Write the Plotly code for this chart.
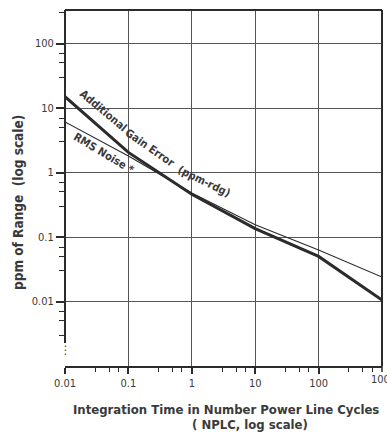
import numpy as np
import plotly.graph_objects as go

# Values (NPLC vs ppm of range)
nplc = [0.01, 0.1, 1, 10, 100, 1000]
gain_error = [15, 2.05, 0.46, 0.135, 0.05, 0.0105]
rms_noise = [6.1, 1.8, 0.48, 0.155, 0.063, 0.024]

x_ticks = [0.01, 0.1, 1, 10, 100, 1000]
x_labels = ["0.01", "0.1", "1", "10", "100", "1000"]
y_ticks = [0.01, 0.1, 1, 10, 100]
y_labels = ["0.01", "0.1", "1", "10", "100"]

# plot area in pixels
W, H = 387, 432
L, R, T, B = 65, 382, 10, 366

INK = "#2b2b2b"
TXT = "#3a3a3a"
FONT = "Liberation Sans Narrow, DejaVu Sans Condensed, Arial, sans-serif"


def px(x):
    return (x - L) / (R - L)


def py(y):
    return (B - y) / (B - T)


minor_x = [m * d for d in [0.01, 0.1, 1, 10, 100] for m in (3, 5, 7)]
minor_y = [m * d for d in [0.001, 0.01, 0.1, 1, 10, 100] for m in (3, 5, 7)]

fig = go.Figure()

fig.add_trace(go.Scatter(
    x=nplc, y=rms_noise, mode="lines",
    line=dict(color=INK, width=1.1),
    showlegend=False, hoverinfo="skip",
))
fig.add_trace(go.Scatter(
    x=nplc, y=gain_error, mode="lines",
    line=dict(color=INK, width=3),
    showlegend=False, hoverinfo="skip",
))

fig.update_xaxes(
    type="log", range=[-2, 3],
    tickmode="array", tickvals=x_ticks[:-1], ticktext=x_labels[:-1],
    showgrid=True, gridcolor="#555555", gridwidth=1,
    showline=True, linecolor=INK, linewidth=2,
    ticks="outside", ticklen=6, tickcolor=INK, tickwidth=1.5,
    minor=dict(tickmode="array", tickvals=minor_x, ticks="outside",
               ticklen=4, tickcolor=INK, tickwidth=1.2, showgrid=False),
    tickfont=dict(family=FONT, size=11, color=TXT),
    zeroline=False,
)
fig.update_yaxes(
    type="log", range=[-3, 2.52],
    tickmode="array", tickvals=y_ticks, ticktext=y_labels,
    showgrid=True, gridcolor="#555555", gridwidth=1,
    showline=False,
    ticks="outside", ticklen=8, tickcolor=INK, tickwidth=1.5,
    minor=dict(tickmode="array", tickvals=minor_y, ticks="outside",
               ticklen=5, tickcolor=INK, tickwidth=1.2, showgrid=False),
    tickfont=dict(family=FONT, size=11, color=TXT),
    zeroline=False,
)

shapes = [
    # frame: top, right, partial left spine
    dict(type="line", xref="paper", yref="paper", x0=0, x1=1, y0=1, y1=1,
         line=dict(color=INK, width=2)),
    dict(type="line", xref="paper", yref="paper", x0=1, x1=1, y0=0, y1=1,
         line=dict(color=INK, width=2)),
    dict(type="line", xref="paper", yref="paper", x0=0, x1=0, y0=py(343), y1=1,
         line=dict(color=INK, width=2)),
    # major tick at the last decade (its label is clipped by the edge)
    dict(type="line", xref="paper", yref="paper", x0=1, x1=1,
         y0=py(366), y1=py(372), line=dict(color=INK, width=1.5)),
]

annotations = [
    dict(text="Additional", x=px(103), y=py(110), textangle=40),
    dict(text="Gain Error", x=px(149), y=py(148), textangle=35),
    dict(text="(ppm-rdg)", x=px(204), y=py(181), textangle=26),
    dict(text="RMS Noise *", x=px(104), y=py(153), textangle=31),
]
for a in annotations:
    a.update(xref="paper", yref="paper", showarrow=False,
             xanchor="center", yanchor="middle",
             font=dict(family=FONT, size=11, color=TXT, weight="bold"))

annotations += [
    dict(text=x_labels[-1], x=px(383), y=py(379), xref="paper", yref="paper",
         showarrow=False, xanchor="center", yanchor="middle",
         font=dict(family=FONT, size=11, color=TXT)),
    dict(text="⋮", x=px(65), y=py(350), xref="paper", yref="paper",
         showarrow=False, xanchor="center", yanchor="middle",
         font=dict(family=FONT, size=12, color=TXT)),
    dict(text="ppm of Range  (log scale)", x=px(18), y=py(203),
         xref="paper", yref="paper", showarrow=False, textangle=-90,
         xanchor="center", yanchor="middle",
         font=dict(family=FONT, size=13.5, color=TXT, weight="bold")),
    dict(text="Integration Time in Number Power Line Cycles", x=px(226), y=py(409),
         xref="paper", yref="paper", showarrow=False,
         xanchor="center", yanchor="middle",
         font=dict(family=FONT, size=13, color=TXT, weight="bold")),
    dict(text="( NPLC, log scale)", x=px(250), y=py(425),
         xref="paper", yref="paper", showarrow=False,
         xanchor="center", yanchor="middle",
         font=dict(family=FONT, size=13, color=TXT, weight="bold")),
]

fig.update_layout(
    width=W, height=H,
    margin=dict(l=L, r=W - R, t=T, b=H - B),
    plot_bgcolor="white", paper_bgcolor="white",
    shapes=shapes, annotations=annotations,
    showlegend=False,
)

fig.write_html(
    "out.html",
    config={"displayModeBar": False},
    post_script="document.body.style.margin='0';document.body.style.overflow='hidden';",
)
